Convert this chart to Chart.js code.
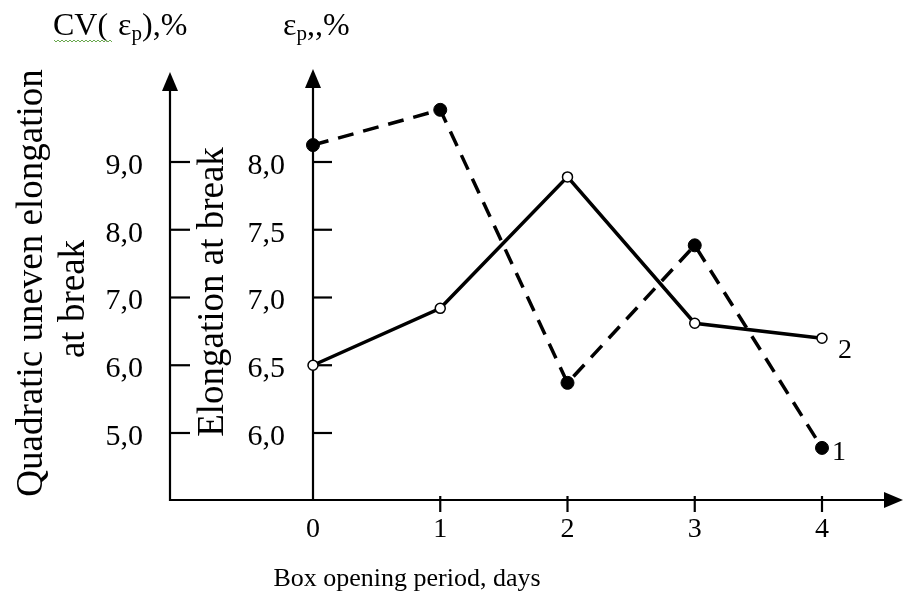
<!DOCTYPE html>
<html>
<head>
<meta charset="utf-8">
<script src="https://cdn.jsdelivr.net/npm/chart.js@4/dist/chart.umd.min.js"></script>
<style>
body{margin:0;background:#fff;}
#wrap{width:903px;height:592px;position:relative;}
</style>
</head>
<body>
<div id="wrap"><canvas id="c"></canvas></div>
<script>
// box opening period, days
const days=[0,1,2,3,4];
// curve 1 (dashed) - CV(eps_p), %
const cvValues=[9.25,9.77,5.74,7.77,4.78];
// curve 2 (solid) - elongation at break eps_p, %
const epsValues=[6.50,6.92,7.89,6.81,6.70];
const epsTicks=[6.0,6.5,7.0,7.5,8.0];
const epsLabels=["6,0","6,5","7,0","7,5","8,0"];
const cvTicks=[5,6,7,8,9];
const cvLabels=["5,0","6,0","7,0","8,0","9,0"];
const dayLabels=["0","1","2","3","4"];

const serif='"Liberation Serif","Times New Roman",serif';

function arrowUp(ctx,x,y){
    ctx.beginPath();
    ctx.moveTo(x,y);
    ctx.lineTo(x-8,y+19);
    ctx.lineTo(x+8,y+19);
    ctx.closePath();
    ctx.fill();
}
function arrowRight(ctx,x,y){
    ctx.beginPath();
    ctx.moveTo(x,y);
    ctx.lineTo(x-19,y-8);
    ctx.lineTo(x-19,y+8);
    ctx.closePath();
    ctx.fill();
}

const axesPlugin={
    id:"axes",
    beforeDatasetsDraw(chart){
        let ctx=chart.ctx,a=chart.chartArea;
        let xs=chart.scales.x,ye=chart.scales.yEps,yc=chart.scales.yCV;
        let x0=xs.getPixelForValue(0);
        ctx.save();
        ctx.strokeStyle="#000";ctx.fillStyle="#000";ctx.lineWidth=2.2;
        // outer CV axis
        ctx.beginPath();ctx.moveTo(a.left,a.bottom+1);ctx.lineTo(a.left,a.top+10);ctx.stroke();
        arrowUp(ctx,a.left,a.top);
        // inner eps axis
        ctx.beginPath();ctx.moveTo(x0,a.bottom);ctx.lineTo(x0,a.top+8);ctx.stroke();
        arrowUp(ctx,x0,a.top-3);
        // x axis
        ctx.beginPath();ctx.moveTo(a.left-1,a.bottom);ctx.lineTo(a.right,a.bottom);ctx.stroke();
        arrowRight(ctx,a.right+8,a.bottom);
        // ticks + labels
        ctx.font="30px "+serif;
        ctx.textAlign="right";ctx.textBaseline="middle";
        cvTicks.forEach((v,i)=>{
            let y=yc.getPixelForValue(v);
            ctx.beginPath();ctx.moveTo(a.left,y);ctx.lineTo(a.left+20,y);ctx.stroke();
            ctx.fillText(cvLabels[i],a.left-27,y+4);
        });
        epsTicks.forEach((v,i)=>{
            let y=ye.getPixelForValue(v);
            ctx.beginPath();ctx.moveTo(x0,y);ctx.lineTo(x0+19,y);ctx.stroke();
            ctx.fillText(epsLabels[i],x0-28,y+4);
        });
        ctx.textAlign="center";ctx.textBaseline="alphabetic";
        ctx.font="28px "+serif;
        days.forEach((d,i)=>{
            let x=xs.getPixelForValue(d);
            if(d!==0){ctx.beginPath();ctx.moveTo(x,a.bottom-4);ctx.lineTo(x,a.bottom+12);ctx.stroke();}
            ctx.fillText(dayLabels[i],x,a.bottom+37);
        });
        ctx.restore();
    },
    afterDraw(chart){
        let ctx=chart.ctx,a=chart.chartArea;
        let xs=chart.scales.x,ye=chart.scales.yEps,yc=chart.scales.yCV;
        ctx.save();
        ctx.fillStyle="#000";
        // x title
        ctx.font="26px "+serif;ctx.textAlign="center";ctx.textBaseline="alphabetic";
        ctx.fillText("Box opening period, days",407,586);
        // rotated y titles
        ctx.font="37px "+serif;
        ctx.save();ctx.translate(42,283);ctx.rotate(-Math.PI/2);
        ctx.fillText("Quadratic uneven elongation",0,0);
        ctx.fillText("at break",-16,42);
        ctx.restore();
        ctx.save();ctx.translate(223,292);ctx.rotate(-Math.PI/2);
        ctx.fillText("Elongation at break",0,0);
        ctx.restore();
        // top axis labels
        ctx.textAlign="left";
        let x=53,base=35;
        ctx.font="32px "+serif;
        ctx.fillText("CV(",x,base);x+=ctx.measureText("CV( ").width+2;
        ctx.fillText("ε",x,base);x+=ctx.measureText("ε").width;
        ctx.font="21px "+serif;ctx.fillText("p",x,base+5);x+=ctx.measureText("p").width;
        ctx.font="32px "+serif;ctx.fillText("),%",x,base);
        // green wavy underline
        ctx.strokeStyle="#6aa84f";ctx.lineWidth=1;
        ctx.beginPath();
        for(let i=0;i<=29;i++){let wx=54+i*2;let wy=40+(i%2?2:0);i?ctx.lineTo(wx,wy):ctx.moveTo(wx,wy);}
        ctx.stroke();
        x=283;
        ctx.font="32px "+serif;ctx.fillText("ε",x,base);x+=ctx.measureText("ε").width;
        ctx.font="21px "+serif;ctx.fillText("p",x,base+5);x+=ctx.measureText("p").width;
        ctx.font="32px "+serif;ctx.fillText(",,%",x,base);
        // curve numbers
        ctx.font="28px "+serif;
        let lx=xs.getPixelForValue(days[4]);
        ctx.fillText("1",lx+10,yc.getPixelForValue(cvValues[4])+12);
        ctx.fillText("2",lx+16,ye.getPixelForValue(epsValues[4])+20);
        ctx.restore();
    }
};

new Chart(document.getElementById("c"),{
    type:"line",
    data:{
        datasets:[{
            label:"1",
            data:days.map((d,i)=>({x:d,y:cvValues[i]})),
            yAxisID:"yCV",
            borderColor:"#000",borderWidth:3.5,borderDash:[16,10],
            pointRadius:6.5,pointBackgroundColor:"#000",pointBorderColor:"#000",pointBorderWidth:1,
            tension:0,clip:false
        },{
            label:"2",
            data:days.map((d,i)=>({x:d,y:epsValues[i]})),
            yAxisID:"yEps",
            borderColor:"#000",borderWidth:3.5,
            pointRadius:5,pointBackgroundColor:"#fff",pointBorderColor:"#000",pointBorderWidth:1.5,
            tension:0,clip:false
        }]
    },
    options:{
        responsive:true,maintainAspectRatio:false,animation:false,
        layout:{padding:{left:170,right:8,top:72,bottom:92}},
        plugins:{legend:{display:false},tooltip:{enabled:false}},
        scales:{
            x:{type:"linear",display:false,min:-1.1238,max:4.5737},
            yEps:{type:"linear",display:false,min:5.5055,max:8.6642},
            yCV:{type:"linear",display:false,min:4.011,max:10.3284}
        }
    },
    plugins:[axesPlugin]
});
</script>
</body>
</html>
